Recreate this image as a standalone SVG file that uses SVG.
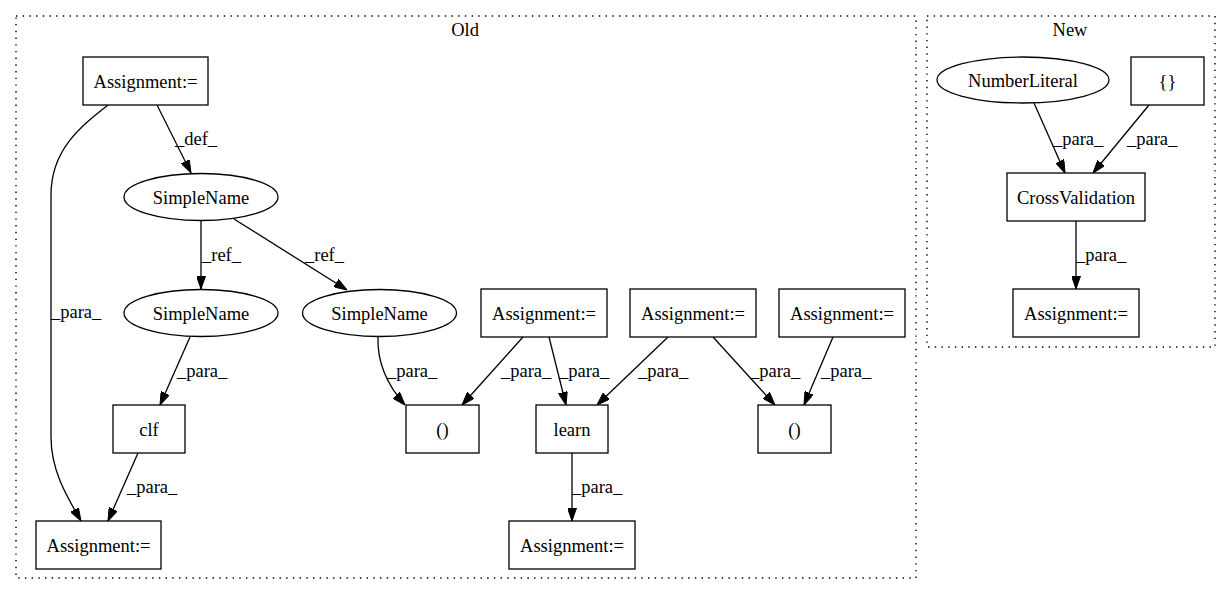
<svg xmlns="http://www.w3.org/2000/svg" width="1231" height="596" viewBox="0 0 1231 596">
<style>
text{font-family:"Liberation Serif","Times New Roman",serif;font-size:18.5px;fill:#000}
.n{text-anchor:middle}
.box,.ell{fill:#fff;stroke:#000;stroke-width:1.3}
.cl{fill:none;stroke:#000;stroke-width:1.4;stroke-dasharray:1.4,5.3}
.e{fill:none;stroke:#000;stroke-width:1.3}
</style>
<defs>
<marker id="ah" viewBox="0 0 13 9" refX="13" refY="4.5" markerWidth="13" markerHeight="9" markerUnits="userSpaceOnUse" orient="auto">
<path d="M0,0 L13,4.5 L0,9 z" fill="#000" stroke="#000" stroke-width="1"/>
</marker>
</defs>
<rect width="1231" height="596" fill="#fff"/>
<g id="cluster_old">
<rect class="cl" x="16" y="16" width="900" height="562"/>
<text class="n" x="465" y="36">Old</text>
</g>
<g id="cluster_new">
<rect class="cl" x="927" y="16" width="288" height="331"/>
<text class="n" x="1070" y="36">New</text>
</g>
<g id="connectors">
<path class="e" marker-end="url(#ah)" d="M157,105 L191,173"/>
<text x="175" y="145">_def_</text>
<path class="e" marker-end="url(#ah)" d="M108,105 C80,127 51,150 51,195 L51,437 C51,470 66,495 81,521"/>
<text x="51" y="318">_para_</text>
<path class="e" marker-end="url(#ah)" d="M201,220 L201,289"/>
<text x="202" y="261">_ref_</text>
<path class="e" marker-end="url(#ah)" d="M234,219 L347,290"/>
<text x="305" y="261">_ref_</text>
<path class="e" marker-end="url(#ah)" d="M190,337 L160,405"/>
<text x="177" y="377">_para_</text>
<path class="e" marker-end="url(#ah)" d="M138,453 L108,521"/>
<text x="127" y="493">_para_</text>
<path class="e" marker-end="url(#ah)" d="M378,337 C377,365 388,386 405,405"/>
<text x="387" y="377">_para_</text>
<path class="e" marker-end="url(#ah)" d="M523,337 L462,405"/>
<text x="501" y="377">_para_</text>
<path class="e" marker-end="url(#ah)" d="M549,337 L566,405"/>
<text x="559" y="377">_para_</text>
<path class="e" marker-end="url(#ah)" d="M668,337 L597,405"/>
<text x="638" y="377">_para_</text>
<path class="e" marker-end="url(#ah)" d="M713,337 L775,405"/>
<text x="750" y="377">_para_</text>
<path class="e" marker-end="url(#ah)" d="M833,337 L804,405"/>
<text x="821" y="377">_para_</text>
<path class="e" marker-end="url(#ah)" d="M572,453 L572,521"/>
<text x="572" y="493">_para_</text>
<path class="e" marker-end="url(#ah)" d="M1034,103 L1065,173"/>
<text x="1053" y="145">_para_</text>
<path class="e" marker-end="url(#ah)" d="M1149,105 L1093,173"/>
<text x="1127" y="145">_para_</text>
<path class="e" marker-end="url(#ah)" d="M1076,221 L1076,289"/>
<text x="1076" y="261">_para_</text>
</g>
<g id="n_assign_top"><rect class="box" x="83" y="57" width="125" height="48"/><text class="n" x="145.5" y="87.5">Assignment:=</text></g>
<g id="n_simplename1"><ellipse class="ell" cx="201" cy="197" rx="77" ry="23.5"/><text class="n" x="201" y="203.5">SimpleName</text></g>
<g id="n_simplename2"><ellipse class="ell" cx="201" cy="313" rx="77" ry="23.5"/><text class="n" x="201" y="319.5">SimpleName</text></g>
<g id="n_simplename3"><ellipse class="ell" cx="379.5" cy="313" rx="77" ry="23.5"/><text class="n" x="379.5" y="319.5">SimpleName</text></g>
<g id="n_clf"><rect class="box" x="113" y="405" width="72" height="48"/><text class="n" x="149" y="435.5">clf</text></g>
<g id="n_assign_bl"><rect class="box" x="36" y="521" width="125" height="48"/><text class="n" x="98.5" y="551.5">Assignment:=</text></g>
<g id="n_assign2"><rect class="box" x="481" y="289" width="126" height="48"/><text class="n" x="544" y="319.5">Assignment:=</text></g>
<g id="n_assign3"><rect class="box" x="630" y="289" width="126" height="48"/><text class="n" x="693" y="319.5">Assignment:=</text></g>
<g id="n_assign4"><rect class="box" x="779" y="289" width="126" height="48"/><text class="n" x="842" y="319.5">Assignment:=</text></g>
<g id="n_paren1"><rect class="box" x="406" y="405" width="73" height="48"/><text class="n" x="442.5" y="435.5">()</text></g>
<g id="n_learn"><rect class="box" x="536" y="405" width="72" height="48"/><text class="n" x="572" y="435.5">learn</text></g>
<g id="n_paren2"><rect class="box" x="758" y="405" width="73" height="48"/><text class="n" x="794.5" y="435.5">()</text></g>
<g id="n_assign_learn"><rect class="box" x="509" y="521" width="126" height="48"/><text class="n" x="572" y="551.5">Assignment:=</text></g>
<g id="n_numberliteral"><ellipse class="ell" cx="1023" cy="80" rx="86" ry="23"/><text class="n" x="1023" y="86.5">NumberLiteral</text></g>
<g id="n_braces"><rect class="box" x="1131" y="57" width="73" height="48"/><text class="n" x="1167.5" y="87.5">{}</text></g>
<g id="n_crossvalidation"><rect class="box" x="1007" y="173" width="138" height="48"/><text class="n" x="1076" y="203.5">CrossValidation</text></g>
<g id="n_assign_new"><rect class="box" x="1013" y="289" width="126" height="48"/><text class="n" x="1076" y="319.5">Assignment:=</text></g>
</svg>
